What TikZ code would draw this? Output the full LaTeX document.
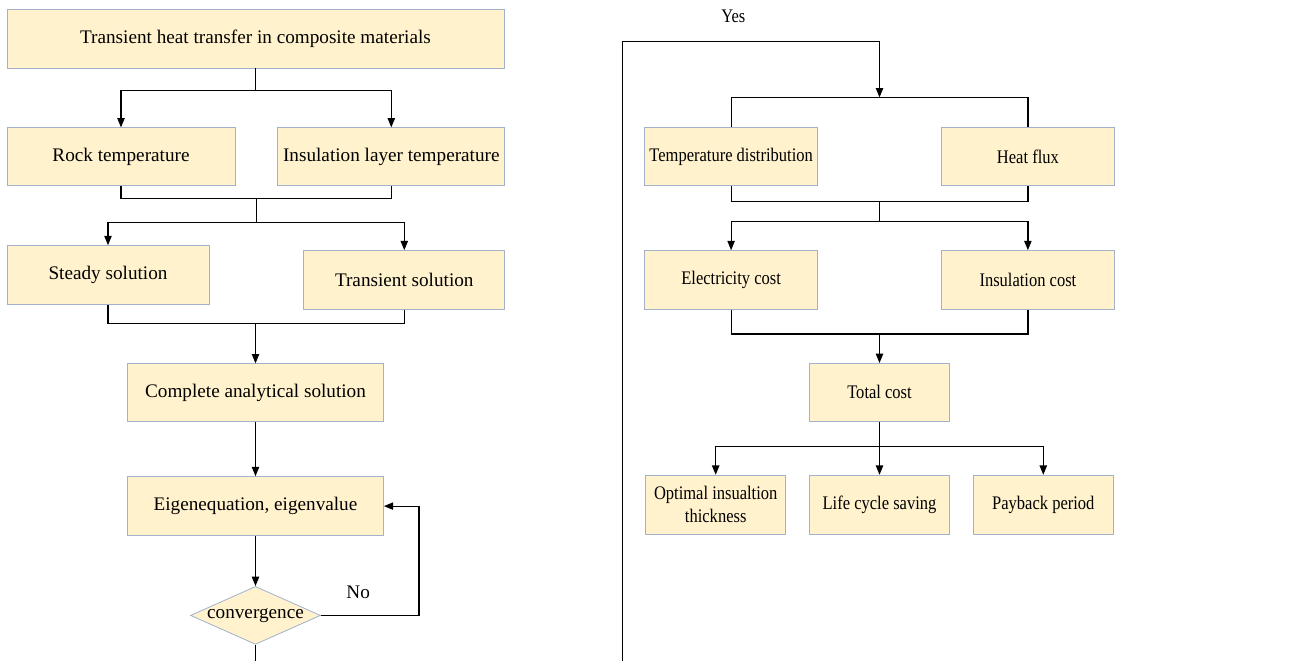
\documentclass[tikz,border=0pt]{standalone}
\usepackage{fontspec}
\setmainfont{Liberation Serif}
\newfontfamily\narrowfont{Liberation Serif}[FakeStretch=0.86]
\usetikzlibrary{arrows.meta,
                calc,
                positioning,
                shapes.geometric
            }
\definecolor{boxfill}{HTML}{FFF2CC}
\definecolor{boxline}{HTML}{A3B1CC}

\begin{document}
\begin{tikzpicture}[
        font=\fontsize{14.4}{17.5}\selectfont,
        box/.style={draw=boxline, fill=boxfill, line width=0.6pt, inner sep=2pt, align=center},
        narrowbox/.style={box, font=\fontsize{14.4}{17.5}\narrowfont},
        decision/.style={diamond, draw=boxline, fill=boxfill, line width=0.6pt, inner sep=0pt, aspect=2.2},
        link/.style={draw, line width=0.9pt},
        arr/.style={link, -{Triangle[length=7pt, width=5.5pt]}}
    ]
                \useasboundingbox (-191.625pt,-466.875pt) rectangle (775.125pt,28.875pt);
                \coordinate (pagebot) at (0,-466.875pt);

                % Heat transfer model
                \node (title) [box, minimum width=372.75pt, minimum height=44.25pt] {Transient heat transfer in composite materials};
                \node (rock) [box, minimum width=171pt, minimum height=43.5pt, below=44.25pt of title.south west, anchor=north west] {Rock temperature};
                \node (layer) [box, minimum width=170.25pt, minimum height=43.5pt, right=31.5pt of rock] {Insulation layer temperature};

                % Solutions
                \node (steady) [box, minimum width=151.5pt, minimum height=44.25pt, below=44.25pt of rock.south west, anchor=north west] {Steady solution};
                \node (transient) [box, minimum width=150.75pt, minimum height=44.25pt, below=48pt of layer.south east, anchor=north east] {Transient solution};
                \node (complete) [box, minimum width=192pt, minimum height=43.5pt, below=221.25pt of title] {Complete analytical solution};
                \node (eigen) [box, minimum width=192pt, minimum height=44.25pt, below=40.5pt of complete] {Eigenequation, eigenvalue};
                \node (conv) [decision, minimum width=97.5pt, minimum height=43.5pt, below=37.5pt of eigen] {convergence};

                % Results
                \node (tempdist) [narrowbox, minimum width=129.75pt, minimum height=43.5pt, right=104.25pt of layer] {Temperature distribution};
                \node (heatflux) [narrowbox, minimum width=129.75pt, minimum height=43.5pt, right=92.25pt of tempdist] {Heat flux};

                % Costs
                \node (elec) [narrowbox, minimum width=129.75pt, minimum height=44.25pt, below=48pt of tempdist] {Electricity cost};
                \node (inscost) [narrowbox, minimum width=129.75pt, minimum height=44.25pt, below=48pt of heatflux] {Insulation cost};
                \coordinate (j5) at ($(elec.south)!0.5!(inscost.south)+(0,-18pt)$);
                \node (total) [narrowbox, minimum width=105pt, minimum height=43.5pt, below=21.75pt of j5] {Total cost};

                % Economic indicators
                \node (life) [narrowbox, minimum width=105pt, minimum height=44.25pt, below=39.75pt of total] {Life cycle saving};
                \node (optimal) [narrowbox, minimum width=105pt, minimum height=44.25pt, left=17.25pt of life] {Optimal insualtion\\thickness};
                \node (payback) [narrowbox, minimum width=105pt, minimum height=44.25pt, right=17.25pt of life] {Payback period};

                % Connectors, left part
                \coordinate (j1) at ($(title.south)+(0,-16.5pt)$);
                \draw[link] (title.south) -- (j1);
                \draw[arr] (j1) -| (rock.north);
                \draw[arr] (j1) -| (layer.north);

                \coordinate (j2) at ($(rock.south)!0.5!(layer.south)+(0,-9pt)$);
                \coordinate (j3) at ($(j2)+(0,-18pt)$);
                \draw[link] (rock.south) |- (j2) -| (layer.south);
                \draw[link] (j2) -- (j3);
                \draw[arr] (j3) -| (steady.north);
                \draw[arr] (j3) -| (transient.north);

                \coordinate (j4) at ($(complete.north)+(0,30pt)$);
                \draw[link] (steady.south) |- (j4) -| (transient.south);
                \draw[arr] (j4) -- (complete.north);
                \draw[arr] (complete) -- (eigen);
                \draw[arr] (eigen) -- (conv);

                \coordinate (loop) at ($(eigen.east)+(26.25pt,0)$);
                \draw[arr] (conv.east) -| node[above=8.5pt, pos=0.19] (no) {No} (loop) -- (eigen.east);
                \draw[link] (conv.south) -- (conv.south |- pagebot);

                % Connectors, right part
                \coordinate (b1) at ($(tempdist.north)!0.5!(heatflux.north)+(0,22.5pt)$);
                \coordinate (b0) at ($(b1)+(0,42pt)$);
                \coordinate (yesbot) at ($(tempdist.west |- pagebot)+(-16.5pt,0)$);
                \draw[arr] (yesbot) |- node[above=10pt, pos=0.716, font=\fontsize{14.4}{17.5}\narrowfont] (yes) {Yes} (b0) -- (b1);
                \draw[link] (tempdist.north) |- (b1) -| (heatflux.north);

                \coordinate (j6) at ($(tempdist.south)!0.5!(heatflux.south)+(0,-11.25pt)$);
                \coordinate (j7) at ($(j6)+(0,-15pt)$);
                \draw[link] (tempdist.south) |- (j6) -| (heatflux.south);
                \draw[link] (j6) -- (j7);
                \draw[arr] (j7) -| (elec.north);
                \draw[arr] (j7) -| (inscost.north);

                \draw[link] (elec.south) |- (j5) -| (inscost.south);
                \draw[arr] (j5) -- (total.north);

                \coordinate (j8) at ($(total.south)+(0,-18.75pt)$);
                \draw[link] (total.south) -- (j8);
                \draw[arr] (j8) -| (optimal.north);
                \draw[arr] (j8) -- (life.north);
                \draw[arr] (j8) -| (payback.north);
            \end{tikzpicture}
\end{document}
